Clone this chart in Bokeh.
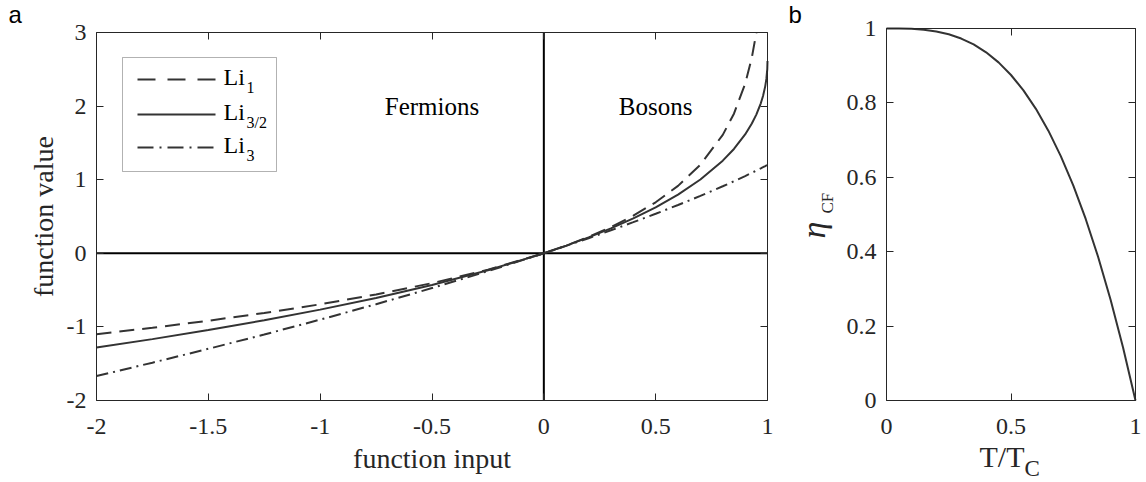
from math import pi
from bokeh.plotting import figure
from bokeh.models import Range1d, LinearAxis, FixedTicker, BoxAnnotation, CustomJSTickFormatter
from bokeh.layouts import row
from bokeh.embed import file_html
from bokeh.resources import INLINE
from bokeh.core.properties import value

# ---------------- data ----------------
X_LI1 = [-2, -1.75, -1.5, -1.25, -1, -0.75, -0.5, -0.25, 0, 0.1, 0.2, 0.3, 0.4, 0.5,
         0.6, 0.7, 0.8, 0.85, 0.9, 0.93, 0.9502]
LI_1 = [-1.0986, -1.0116, -0.9163, -0.8109, -0.6931, -0.5596, -0.4055, -0.2231, 0.0,
        0.1054, 0.2231, 0.3567, 0.5108, 0.6931, 0.9163, 1.2040, 1.6094, 1.8971,
        2.3026, 2.6593, 3.0]

X_LI = [-2, -1.75, -1.5, -1.25, -1, -0.75, -0.5, -0.25, 0, 0.1, 0.2, 0.3, 0.4, 0.5,
        0.6, 0.7, 0.8, 0.85, 0.9, 0.93, 0.95, 0.97, 0.98, 0.99, 0.995, 0.999, 1.0]
LI_32 = [-1.2814, -1.1662, -1.0429, -0.9098, -0.7651, -0.6064, -0.4299, -0.2305, 0.0,
         0.1037, 0.2159, 0.3383, 0.4734, 0.6248, 0.7982, 1.0031, 1.2586, 1.4179,
         1.6144, 1.7628, 1.8842, 2.0381, 2.1380, 2.2717, 2.3687, 2.5017, 2.6124]
LI_3 = [-1.6683, -1.4860, -1.2978, -1.1033, -0.9015, -0.6917, -0.4726, -0.2427, 0.0,
        0.1013, 0.2053, 0.3124, 0.4229, 0.5372, 0.6560, 0.7801, 0.9106, 0.9789,
        1.0497, 1.0936, 1.1236, 1.1543, 1.1699, 1.1858, 1.1939, 1.2004, 1.2021]

SERIES_SUBS = ["1", "3/2", "3"]          # subscripts of "Li" in the legend
REGION_NAMES = ["Fermions", "Bosons"]
REGION_X = [-0.5, 0.5]

T_RATIO = [0, 0.05, 0.1, 0.15, 0.2, 0.25, 0.3, 0.35, 0.4, 0.45, 0.5, 0.55, 0.6, 0.65,
           0.7, 0.75, 0.8, 0.85, 0.9, 0.95, 1.0]
ETA_CF = [1.0, 0.9999, 0.999, 0.9966, 0.992, 0.9844, 0.973, 0.9571, 0.936, 0.9089,
          0.875, 0.8336, 0.784, 0.7254, 0.657, 0.5781, 0.488, 0.3859, 0.271, 0.1426, 0.0]

A_XTICKS = [-2, -1.5, -1, -0.5, 0, 0.5, 1]
A_XLABELS = ["-2", "-1.5", "-1", "-0.5", "0", "0.5", "1"]
A_YTICKS = [-2, -1, 0, 1, 2, 3]
A_YLABELS = ["-2", "-1", "0", "1", "2", "3"]
B_XTICKS = [0, 0.5, 1]
B_XLABELS = ["0", "0.5", "1"]
B_YTICKS = [0, 0.2, 0.4, 0.6, 0.8, 1]
B_YLABELS = ["0", "0.2", "0.4", "0.6", "0.8", "1"]

# axis limits
A_X0, A_X1, A_Y0, A_Y1 = -2, 1, -2, 3
B_X0, B_X1, B_Y0, B_Y1 = 0, 1, 0, 1

# ---------------- styles / layout ----------------
SERIF = "Liberation Serif"
SANS = "Liberation Sans"
AX = "#262626"
CURVE = "#333333"
DASH = "15 8"
DASHDOT = "12 5 2 5"
LEG_DASH = "18 12"
LEG_DASHDOT = "16 6 2 6"
TICK_FS = "24px"
H = 482
A_W, B_W = 780, 366
A_BOX = (96, 767, 32, 400)     # axes box in canvas pixels (left, right, top, bottom)
B_BOX = (106, 355, 28, 400)
BASE_SHIFT = 0.35              # em offset between requested and drawn baseline


def mapper(d0, d1, p0, p1):
    k = (d1 - d0) / (p1 - p0)
    return lambda px: d0 + (px - p0) * k


def make_fig(w, box, x0, x1, y0, y1, xt, xl, yt, yl):
    L, R, T, B = box
    fx = mapper(x0, x1, L, R)
    fy = mapper(y1, y0, T, B)
    p = figure(width=w, height=H, x_range=Range1d(fx(0), fx(w)), y_range=Range1d(fy(H), fy(0)),
               output_backend="svg", toolbar_location=None,
               x_axis_location=None, y_axis_location=None,
               min_border=0, min_border_left=0, min_border_right=0,
               min_border_top=0, min_border_bottom=0)
    p.grid.visible = False
    p.outline_line_color = None
    p.background_fill_color = "white"
    p.border_fill_color = "white"
    blank = CustomJSTickFormatter(code="return ''")
    specs = [("below", y0, (x0, x1), xt, xl, 18),
             ("left", x0, (y0, y1), yt, yl, 10),
             ("above", y1, (x0, x1), xt, None, 0),
             ("right", x1, (y0, y1), yt, None, 0)]
    for side, loc, bounds, ticks, labels, standoff in specs:
        ax = LinearAxis(fixed_location=loc, bounds=bounds, ticker=FixedTicker(ticks=ticks),
                        axis_line_color=AX, axis_line_width=1,
                        major_tick_line_color=AX, major_tick_in=7, major_tick_out=0,
                        minor_tick_line_color=None, major_label_standoff=standoff,
                        major_label_text_font=SERIF, major_label_text_font_size=TICK_FS,
                        major_label_text_color=AX)
        if labels is None:
            ax.formatter = blank
        else:
            ax.major_label_overrides = dict(zip(ticks, labels))
        p.add_layout(ax, side)
    return p, fx, fy


def txt(p, fx, fy, px, py, s, size, font=SERIF, align="left", angle=0.0, color="black",
        style="normal"):
    """place text whose baseline starts at canvas pixel (px, py)"""
    off = BASE_SHIFT * size
    if angle:
        px -= off
    else:
        py -= off
    p.text(x=[fx(px)], y=[fy(py)], text=[s], text_font=value(font),
           text_font_size=f"{size}px", text_align=align, text_baseline="alphabetic",
           angle=angle, text_color=color, text_font_style=style)


# ---------------- panel a ----------------
p1, ax_, ay_ = make_fig(A_W, A_BOX, A_X0, A_X1, A_Y0, A_Y1,
                        A_XTICKS, A_XLABELS, A_YTICKS, A_YLABELS)
a_px = mapper(A_BOX[0], A_BOX[1], A_X0, A_X1)   # data x -> pixel

# zero reference lines
p1.segment(x0=[A_X0, 0], y0=[0, A_Y0], x1=[A_X1, 0], y1=[0, A_Y1],
           line_color="black", line_width=2)

p1.line(X_LI1, LI_1, line_width=2, line_color=CURVE, line_dash=DASH)
p1.line(X_LI, LI_32, line_width=2, line_color=CURVE)
p1.line(X_LI, LI_3, line_width=2, line_color=CURVE, line_dash=DASHDOT)

for name, xr in zip(REGION_NAMES, REGION_X):
    txt(p1, ax_, ay_, a_px(xr), 115, name, 25, align="center")

# legend drawn by hand so that the subscripts are real text
p1.add_layout(BoxAnnotation(left=ax_(122), right=ax_(276), top=ay_(57), bottom=ay_(171),
                            fill_color=None, line_color="black", line_width=1))
for rpx, dsh, sub in zip([79, 114, 147], [LEG_DASH, "solid", LEG_DASHDOT], SERIES_SUBS):
    p1.line([ax_(137), ax_(215)], [ay_(rpx), ay_(rpx)], line_width=2, line_color=CURVE,
            line_dash=dsh)
    txt(p1, ax_, ay_, 223, rpx + 6, "Li", 24)
    txt(p1, ax_, ay_, 246, rpx + 14, sub, 16)

txt(p1, ax_, ay_, 53, 216, "function value", 28, align="center", angle=pi / 2, color=AX)
txt(p1, ax_, ay_, 431.5, 468, "function input", 28, align="center", color=AX)
txt(p1, ax_, ay_, 8, 22, "a", 24, font=SANS)

# ---------------- panel b ----------------
p2, bx_, by_ = make_fig(B_W, B_BOX, B_X0, B_X1, B_Y0, B_Y1,
                        B_XTICKS, B_XLABELS, B_YTICKS, B_YLABELS)
p2.line(T_RATIO, ETA_CF, line_width=2, line_color=CURVE)

txt(p2, bx_, by_, 45, 238, "η", 34, angle=pi / 2, color=AX, style="italic")
txt(p2, bx_, by_, 53, 213, "CF", 17, angle=pi / 2, color=AX)
txt(p2, bx_, by_, 199, 466, "T/T", 30, color=AX)
txt(p2, bx_, by_, 244, 476, "C", 23, color=AX)
txt(p2, bx_, by_, 8, 22, "b", 24, font=SANS)

layout = row(p1, p2)
open("out.html", "w").write(file_html(layout, INLINE))
